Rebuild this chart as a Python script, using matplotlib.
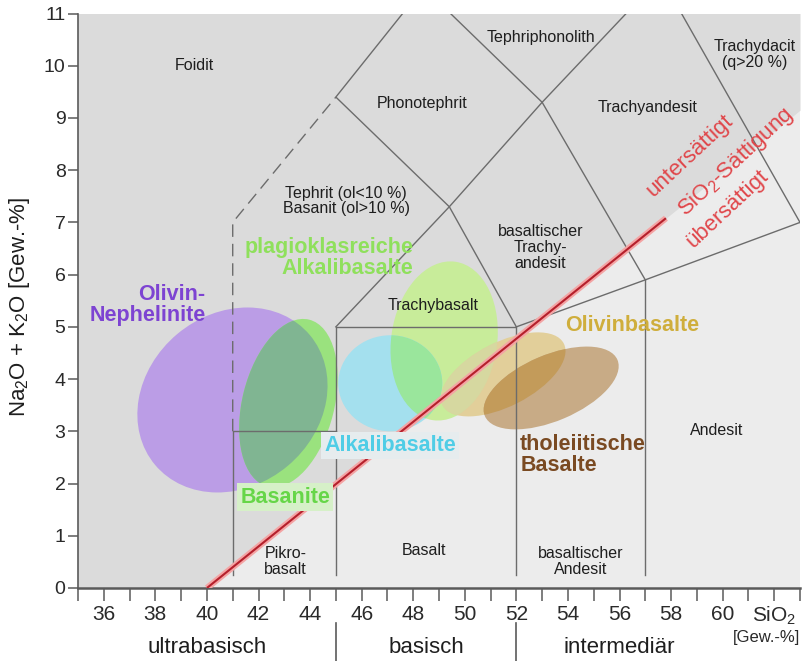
import numpy as np
import matplotlib
matplotlib.use("Agg")
import matplotlib.pyplot as plt
from matplotlib.patches import Ellipse
from matplotlib.transforms import ScaledTranslation, blended_transform_factory

BASE = "Liberation Sans"
plt.rcParams["font.family"] = [BASE, "DejaVu Sans"]
plt.rcParams["mathtext.fontset"] = "custom"
plt.rcParams["mathtext.rm"] = BASE
plt.rcParams["mathtext.it"] = BASE + ":italic"
plt.rcParams["mathtext.bf"] = BASE + ":bold"

DPI = 100

# ---- axes ranges (SiO2 wt-%, Na2O+K2O wt-%) ----
sio2_lim = (35, 63)
alk_lim = (0, 11)
x_major = list(range(36, 63, 2))
x_labels = ["36", "38", "40", "42", "44", "46", "48", "50", "52", "54", "56", "58", "60", "SiO$_2$"]
x_minor = list(range(35, 64))
y_major = list(range(0, 12))

# ---- TAS field boundaries ----
pikro_x, pikro_y = [41, 41, 45], [0.25, 3, 3]
basalt_x, basalt_y = [45, 45, 52, 52], [0.25, 5, 5, 0.25]
andesite_x, andesite_y = [57, 57], [0.25, 5.9]
upper_basalt_x, upper_basalt_y = [52, 57, 63], [5, 5.9, 7]
trachy_left_x, trachy_left_y = [45, 49.4, 53, 57.6], [5, 7.3, 9.3, 11.7]
trachy_right_x, trachy_right_y = [52, 49.4, 45, 48.4], [5, 7.3, 9.4, 11.5]
trachyand_x, trachyand_y = [57, 53, 48.4], [5.9, 9.3, 11.5]
trachyte_x, trachyte_y = [63, 57.6], [7, 11.7]
foidite_x, foidite_y = [41, 41, 45], [3, 7, 9.4]          # dashed

# SiO2 saturation line
sat_x, sat_y = [40.0, 57.8], [0.0, 7.08]

# ---- rock-group fields: centre (SiO2, alk), semi-axes (px), tilt (deg) ----
neph_c, neph_ax, neph_ang = (40.99, 3.60), (101, 86), 40
basan_c, basan_ax, basan_ang = (43.16, 3.54), (86, 46), 76
plag_c, plag_ax, plag_ang = (49.20, 4.73), (80, 53), 82
alkb_c, alkb_ax, alkb_ang = (47.11, 3.92), (52, 48), 0
olb_c, olb_ax, olb_ang = (51.49, 4.09), (68, 32), 27
thol_c, thol_ax, thol_ang = (53.35, 3.83), (72, 33), 23

# ---- text labels ----
field_names = ["Foidit", "Tephriphonolith", "Trachydacit\n(q>20 %)", "Phonotephrit",
               "Trachyandesit", "Tephrit (ol<10 %)\nBasanit (ol>10 %)",
               "basaltischer\nTrachy-\nandesit", "Trachybasalt", "Andesit", "Basalt",
               "basaltischer\nAndesit", "Pikro-\nbasalt"]
field_x = [39.5, 52.96, 61.26, 48.35, 57.07, 45.4, 52.93, 48.78, 59.78, 48.43, 54.48, 43.04]
field_y = [10.0, 10.55, 10.22, 9.28, 9.2, 7.41, 6.52, 5.41, 3.02, 0.72, 0.51, 0.51]

group_names = ["Olivin-\nNephelinite", "plagioklasreiche\nAlkalibasalte", "Olivinbasalte",
               "Alkalibasalte", "Basanite", "tholeiitische\nBasalte"]
group_x = [39.94, 48.0, 56.49, 47.11, 43.04, 52.15]
group_y = [5.42, 6.31, 5.03, 2.73, 1.74, 2.54]
group_ha = ["right", "right", "center", "center", "center", "left"]
group_colors = ["#7d43d2", "#8fe05c", "#cfae3c", "#4fcde6", "#66d648", "#7a4a22"]

sat_labels = ["untersättigt", "SiO$_2$-Sättigung", "übersättigt"]
sat_lx = [58.74, 60.5, 60.2]
sat_ly = [8.27, 8.15, 7.27]

classes = ["ultrabasisch", "basisch", "intermediär"]
class_x = [40.0, 48.5, 56.0]
class_sep = [45, 52]

# ---- figure ----
fig = plt.figure(figsize=(8.06, 6.61), dpi=DPI)
ax = fig.add_axes([78 / 806, 1 - 588 / 661, 722 / 806, 574.5 / 661])
ax.set_xlim(*sio2_lim)
ax.set_ylim(*alk_lim)

# saturated / undersaturated shading
ax.set_facecolor("#ececec")
xs = np.linspace(sio2_lim[0], sio2_lim[1], 400)
slope = (sat_y[1] - sat_y[0]) / (sat_x[1] - sat_x[0])
ys = np.clip(sat_y[0] + slope * (xs - sat_x[0]), alk_lim[0], alk_lim[1])
ax.fill_between(xs, ys, alk_lim[1], color="#dbdbdb", lw=0, zorder=0)


def blob(center, axes_px, angle, color, zorder):
    tr = fig.dpi_scale_trans + ScaledTranslation(center[0], center[1], ax.transData)
    e = Ellipse((0, 0), 2 * axes_px[0] / DPI, 2 * axes_px[1] / DPI, angle=angle,
                transform=tr, facecolor=color, edgecolor="none", zorder=zorder)
    ax.add_patch(e)
    return e


p_neph = blob(neph_c, neph_ax, neph_ang, "#bb9de6", 1)
p_basan = blob(basan_c, basan_ax, basan_ang, "#9ae27e", 1.1)
blob(basan_c, basan_ax, basan_ang, "#80b592", 1.2).set_clip_path(p_neph)

p_plag = blob(plag_c, plag_ax, plag_ang, "#c8ec9a", 1)
p_alkb = blob(alkb_c, alkb_ax, alkb_ang, "#a4e0ee", 1.1)
blob(alkb_c, alkb_ax, alkb_ang, "#9ae69c", 1.2).set_clip_path(p_plag)

p_olb = blob(olb_c, olb_ax, olb_ang, "#e2cf9a", 1.3)
blob(olb_c, olb_ax, olb_ang, "#d6d8a0", 1.35).set_clip_path(p_plag)
p_thol = blob(thol_c, thol_ax, thol_ang, "#c8ab86", 1.4)
blob(thol_c, thol_ax, thol_ang, "#c39b5a", 1.5).set_clip_path(p_olb)

# field boundaries
line_kw = dict(color="#6c6c6c", lw=1.0, zorder=3)
for bx, by in [(pikro_x, pikro_y), (basalt_x, basalt_y), (andesite_x, andesite_y),
               (upper_basalt_x, upper_basalt_y), (trachy_left_x, trachy_left_y),
               (trachy_right_x, trachy_right_y), (trachyand_x, trachyand_y),
               (trachyte_x, trachyte_y)]:
    ax.plot(bx, by, **line_kw)
ax.plot(foidite_x, foidite_y, ls=(0, (9, 5)), **line_kw)

# saturation line
ax.plot(sat_x, sat_y, color="#f4a4a4", lw=4.5, solid_capstyle="butt", zorder=4)
ax.plot(sat_x, sat_y, color="#b5202c", lw=1.5, solid_capstyle="butt", zorder=4.1)

# field names
for name, fx, fy in zip(field_names, field_x, field_y):
    ax.text(fx, fy, name, ha="center", va="center", fontsize=11.5,
            color="#1e1e1e", linespacing=1.05, zorder=5)

# rock group names
for name, gx, gy, ha, c in zip(group_names, group_x, group_y, group_ha, group_colors):
    bbox = None
    if name == "Basanite":
        bbox = dict(boxstyle="square,pad=0.15", fc="#d6f0c8", ec="none")
    elif name == "Alkalibasalte":
        bbox = dict(boxstyle="square,pad=0.15", fc="#e6ecee", ec="none")
    ax.text(gx, gy, name, ha=ha, va="center", ma=ha, fontsize=15.5, fontweight="bold",
            color=c, linespacing=1.0, zorder=6, bbox=bbox)

# saturation annotations
for lab, lx, ly in zip(sat_labels, sat_lx, sat_ly):
    ax.text(lx, ly, lab, rotation=43, rotation_mode="anchor", ha="center", va="center",
            fontsize=16, color="#e0464a", zorder=6)

# axes styling
for s in ("top", "right"):
    ax.spines[s].set_visible(False)
ax.spines["left"].set_color("#5a5a5a")
ax.spines["bottom"].set_color("#5a5a5a")
ax.spines["bottom"].set_linewidth(1.8)
ax.spines["left"].set_linewidth(1.2)

ax.set_xticks(x_major)
ax.set_xticklabels(x_labels)
ax.set_xticks(x_minor, minor=True)
ax.set_yticks(y_major)
ax.tick_params(axis="x", which="both", direction="out", length=9, width=1.1, color="#5a5a5a",
               labelsize=15, pad=3, labelcolor="#2a2a2a")
ax.tick_params(axis="y", direction="out", length=7, width=1.1, color="#5a5a5a",
               labelsize=14, pad=2, labelcolor="#2a2a2a")

bt = blended_transform_factory(ax.transData, ax.transAxes)
ax.text(63, -0.086, "[Gew.-%]", transform=bt, ha="right", va="center", fontsize=12,
        color="#2a2a2a")
for name, cx in zip(classes, class_x):
    ax.text(cx, -0.104, name, transform=bt, ha="center", va="center", fontsize=16,
            color="#1e1e1e")
for sx in class_sep:
    ax.plot([sx, sx], [-0.061, -0.13], transform=bt, color="#5a5a5a", lw=1.2, clip_on=False)

fig.text(20 / 806, 1 - 307 / 661, "Na$_2$O + K$_2$O [Gew.-%]", rotation=90, ha="center",
         va="center", fontsize=16, color="#1e1e1e")

fig.savefig("out.png", dpi=DPI, facecolor="white")
